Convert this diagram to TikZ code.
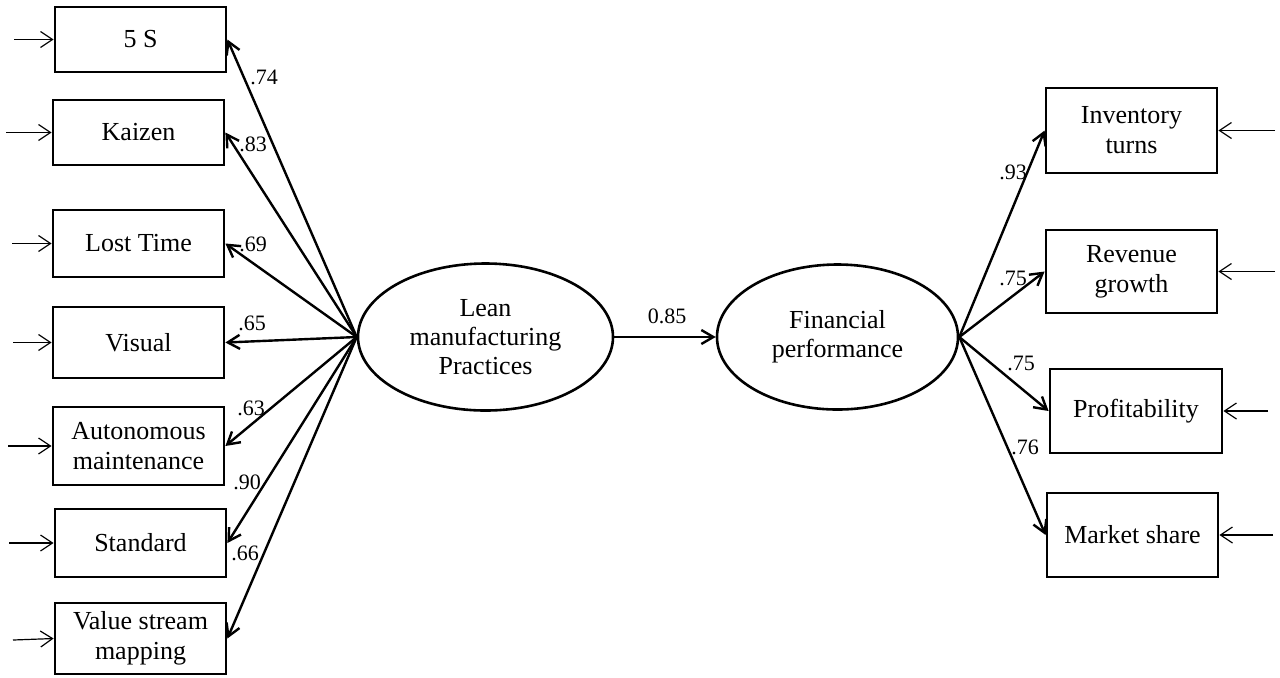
\documentclass[tikz,border=0pt]{standalone}
\usepackage{fontspec}
\setmainfont{Liberation Serif}
\usetikzlibrary{shapes.geometric,arrows.meta}
\begin{document}
\begin{tikzpicture}[x=0.5pt,y=-0.5pt,
  obs/.style={draw,line width=1.4pt,inner sep=0pt,align=center,
    font=\fontsize{13}{15}\selectfont},
  latent/.style={draw,ellipse,line width=1.3pt,inner sep=0pt,align=center,
    font=\fontsize{13}{14.5}\selectfont},
  load/.style={-{Straight Barb[length=6pt,width=7pt,line width=1.2pt]},line width=1.2pt},
  err/.style={-{Straight Barb[length=6pt,width=8pt,line width=0.6pt]},line width=0.6pt},
  coef/.style={inner sep=0pt,font=\fontsize{11}{13}\selectfont}]
\useasboundingbox (0,0) rectangle (1280,677);

% latent constructs
\node[latent,minimum width=127.5pt,minimum height=73.5pt] (lean) at (485.5,337)
  {Lean\\manufacturing\\Practices};
\node[latent,minimum width=120.5pt,minimum height=72.5pt] (fin) at (837.5,337)
  {Financial\\performance};

% lean indicators
\node[obs,minimum width=85.5pt,minimum height=32.5pt] (s5) at (140.5,39.5) {5 S};
\node[obs,minimum width=85.5pt,minimum height=32.5pt] (kai) at (138.5,132.5) {Kaizen};
\node[obs,minimum width=85.5pt,minimum height=33.5pt] (lost) at (138.5,243.5) {Lost Time};
\node[obs,minimum width=85.5pt,minimum height=35.5pt] (vis) at (138.5,342.5) {Visual};
\node[obs,minimum width=85.5pt,minimum height=39pt] (aut) at (138.5,446) {Autonomous\\maintenance};
\node[obs,minimum width=85.5pt,minimum height=34pt] (std) at (140.5,543) {Standard};
\node[obs,minimum width=85.5pt,minimum height=35.5pt] (vsm) at (140.5,638.5) {Value stream\\mapping};

% financial indicators
\node[obs,minimum width=85.5pt,minimum height=42.5pt] (inv) at (1131.5,130.5) {Inventory\\turns};
\node[obs,minimum width=85.5pt,minimum height=41.5pt] (rev) at (1131.5,271.5) {Revenue\\growth};
\node[obs,minimum width=86pt,minimum height=42pt] (prof) at (1136,411) {Profitability};
\node[obs,minimum width=85.5pt,minimum height=42pt] (mkt) at (1132.5,535) {Market share};

% loadings
\draw[load] (lean.west) -- (s5.east);
\draw[load] (lean.west) -- (kai.east);
\draw[load] (lean.west) -- (lost.east);
\draw[load] (lean.west) -- (vis.east);
\draw[load] (lean.west) -- (aut.east);
\draw[load] (lean.west) -- (std.east);
\draw[load] (lean.west) -- (vsm.east);
\draw[load] (lean.east) -- (fin.west);
\draw[load] (fin.east) -- (inv.west);
\draw[load] (fin.east) -- (rev.west);
\draw[load] (fin.east) -- (prof.west);
\draw[load] (fin.east) -- (mkt.west);

% coefficient labels
\node[coef] (c1) at (264,77) {.74};
\node[coef] (c2) at (253,144) {.83};
\node[coef] (c3) at (253,244) {.69};
\node[coef] (c4) at (252,323) {.65};
\node[coef] (c5) at (251,408) {.63};
\node[coef] (c6) at (247,482) {.90};
\node[coef] (c7) at (245,553) {.66};
\node[coef] (c8) at (667,316) {0.85};
\node[coef] (c9) at (1013,172) {.93};
\node[coef] (c10) at (1013,278) {.75};
\node[coef] (c11) at (1021,363) {.75};
\node[coef] (c12) at (1025,447) {.76};

% error terms
\coordinate (e1) at (14,39.5);
\coordinate (e2) at (6,132.5);
\coordinate (e3) at (12,243.5);
\coordinate (e4) at (13,342.5);
\coordinate (e5) at (8,446);
\coordinate (e6) at (9,543);
\coordinate (e7) at (13,640);
\coordinate (e8) at (1275,130.5);
\coordinate (e9) at (1275,271.5);
\coordinate (e10) at (1268,411);
\coordinate (e11) at (1273,535);
\draw[err] (e1) -- (s5.west);
\draw[err] (e2) -- (kai.west);
\draw[err] (e3) -- (lost.west);
\draw[err] (e4) -- (vis.west);
\draw[err] (e5) -- (aut.west);
\draw[err] (e6) -- (std.west);
\draw[err] (e7) -- (vsm.west);
\draw[err] (e8) -- (inv.east);
\draw[err] (e9) -- (rev.east);
\draw[err] (e10) -- (prof.east);
\draw[err] (e11) -- (mkt.east);
\end{tikzpicture}
\end{document}
